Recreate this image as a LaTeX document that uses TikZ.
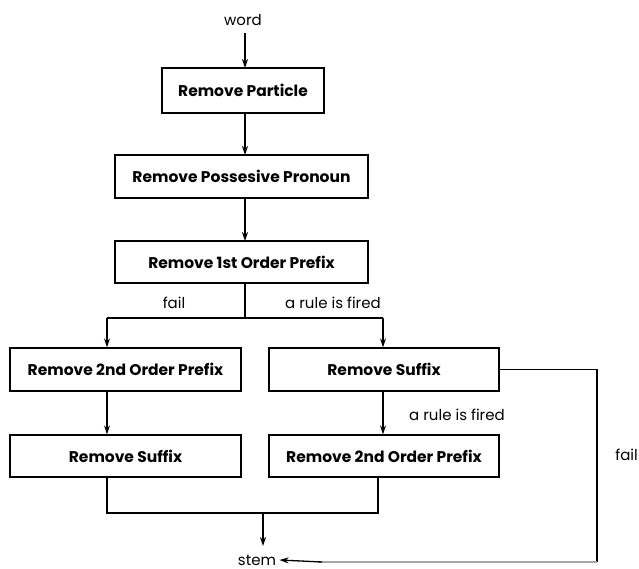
\documentclass[tikz,border=0pt]{standalone}
\usepackage{fontspec}
\setmainfont{Poppins}
\usetikzlibrary{arrows.meta, positioning, calc}

\begin{document}
\begin{tikzpicture}[
        x=1pt, y=-1pt,
        stepbox/.style={draw, line width=1.3pt, minimum height=43pt, inner sep=0pt,
            font=\fontsize{15.5}{18}\selectfont\bfseries},
        flow/.style={line width=1.3pt, -{Stealth[length=9pt, width=6pt]}},
        link/.style={line width=1.3pt},
        loop/.style={draw=gray!70, line width=2.6pt},
        every node/.style={font=\fontsize{15}{18}\selectfont}
    ]

    \useasboundingbox (0,0) rectangle (639,569);

    % Main column
    \node (word) at (243,20) {word};
    \node[stepbox, minimum width=162pt, minimum height=45pt] (particle) at (243,90.5) {Remove Particle};
    \node[stepbox, minimum width=253pt] (pronoun) at (241.5,176.5) {Remove Possesive Pronoun};
    \node[stepbox, minimum width=253pt, minimum height=42pt] (prefixone) at (241.5,262) {Remove 1st Order Prefix};

    \draw[flow] (245,33) -- (245,68);
    \draw[flow] (245,113) -- (245,155);
    \draw[flow] (245,198) -- (245,241);

    % Branch
    \coordinate (split) at (245,318);
    \coordinate (splitL) at (107,318);
    \coordinate (splitR) at (383,318);
    \draw[link] (prefixone.south -| split) -- (split);
    \draw[link] (splitL) -- (splitR);
    \node at (174,303) {fail};
    \node at (333,303) {a rule is fired};

    % Left branch
    \node[stepbox, minimum width=231pt] (prefixtwoL) at (125.5,369.5) {Remove 2nd Order Prefix};
    \node[stepbox, minimum width=231pt, minimum height=42pt] (suffixL) at (125.5,456) {Remove Suffix};
    \draw[flow] (splitL) -- (splitL |- prefixtwoL.north);
    \draw[flow] (prefixtwoL.south -| splitL) -- (suffixL.north -| splitL);

    % Right branch
    \node[stepbox, minimum width=230pt] (suffixR) at (384,369.5) {Remove Suffix};
    \node[stepbox, minimum width=230pt, minimum height=42pt] (prefixtwoR) at (384,456) {Remove 2nd Order Prefix};
    \draw[flow] (splitR) -- (splitR |- suffixR.north);
    \draw[flow] (suffixR.south -| splitR) -- (prefixtwoR.north -| splitR);
    \node at (457,415) {a rule is fired};

    % Join to stem
    \node (stem) at (257,560) {stem};
    \coordinate (joinL) at (107,513);
    \coordinate (joinR) at (378,513);
    \draw[link] (suffixL.south -| joinL) -- (joinL) -- (joinR) -- (prefixtwoR.south -| joinR);
    \draw[flow] (263,513) -- (263,546);

    % Fail loop
    \coordinate (loopTop) at (597,369.5);
    \coordinate (loopBot) at (597,562);
    \draw[link] (suffixR.east) -- (loopTop) -- (loopBot);
    \draw[loop] (loopBot) -- (318,562);
    \draw[flow] (322,562) -- (stem.east);
    \node[anchor=east, inner sep=1pt] at (639,455) {fail};

\end{tikzpicture}
\end{document}
